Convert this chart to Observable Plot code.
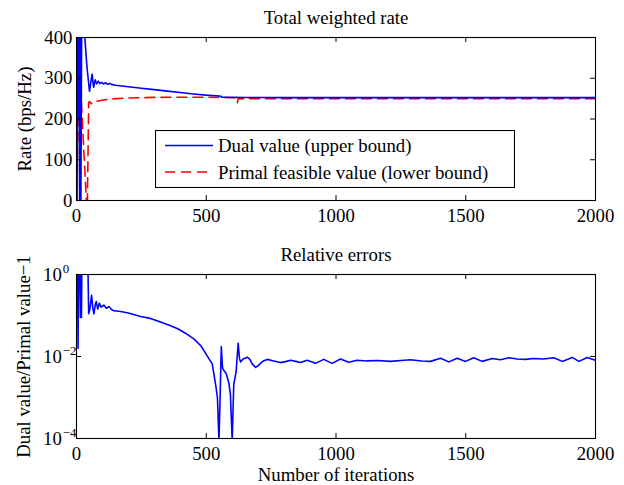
<!DOCTYPE html>
<html><head><meta charset="utf-8">
<script src="https://cdn.jsdelivr.net/npm/d3@7"></script>
<script src="https://cdn.jsdelivr.net/npm/@observablehq/plot@0.6"></script>
<style>
html,body{margin:0;padding:0;background:#fff;}
#wrap{position:relative;width:624px;height:485px;overflow:hidden;font-family:"Liberation Serif","Times New Roman",serif;}
#wrap > svg{display:block;}
#legend{position:absolute;left:155px;top:130px;}
</style></head><body><div id="wrap"></div>
<script>
// ---- data ----
const title1 = "Total weighted rate";
const title2 = "Relative errors";
const yLabel1 = "Rate (bps/Hz)";
const yLabel2 = "Dual value/Primal value\u22121";
const xLabel = "Number of iterations";
const seriesNames = ["Dual value (upper bound)", "Primal feasible value (lower bound)"];
const xTicks = [0, 500, 1000, 1500, 2000];
const rateTicks = [0, 100, 200, 300, 400];
const errTicks = [1e-4, 1e-2, 1];
const errTickLabels = ["10^\u22124", "10^\u22122", "10^0"];

const dualIter  = [0, 2, 4, 6, 9, 12, 14, 17, 20, 25, 31, 40, 50, 60, 66, 72, 78, 84, 90, 97, 104, 112, 120, 128, 135, 150, 200, 250, 300, 350, 400, 450, 500, 550, 557, 560, 600, 650, 700, 800, 1000, 1200, 1400, 1600, 1800, 2000];
const dualValue = [450, 0, 430, 204, 450, 0, 440, 0, 460, 480, 410, 330, 268, 310, 278, 296, 286, 293, 287, 290, 286, 289, 285, 287, 285, 283, 279, 275.5, 272, 268.5, 265, 261.5, 258.5, 256.5, 256, 253.5, 253, 252.8, 252.6, 252.5, 252.5, 252.5, 252.5, 252.5, 252.5, 252.5];

const primalIter  = [0, 1, 4, 8, 18, 38, 42, 47, 52, 57, 62, 75, 100, 130, 200, 300, 450, 560, 610, 618, 620, 623, 700, 900, 1100, 1300, 1500, 1700, 2000];
const primalValue = [210, 0, 120, 240, 250, 0, 0, 241, 242, 237, 241, 243, 246, 249, 251.5, 253, 253.5, 253, 252, 251.5, 240, 249.5, 250, 250, 250, 250, 250, 250, 250];

const errIter  = [0, 4, 6, 8, 12, 15, 17, 19, 21, 40, 44, 47, 52, 58, 63, 67, 72, 76, 82, 88, 95, 105, 115, 125, 135, 144, 170, 200, 247, 285, 324, 360, 388, 420, 452, 480, 503, 523, 536, 543, 549, 553, 558, 562, 564, 577, 587, 593, 600, 606, 615, 623, 628, 632, 642, 658, 668, 677, 690, 700, 707, 720, 735, 760, 786, 805, 825, 845, 863, 889, 921, 953, 985, 1017, 1049, 1081, 1120, 1160, 1210, 1250, 1287, 1330, 1364, 1403, 1435, 1467, 1499, 1531, 1563, 1602, 1634, 1666, 1698, 1730, 1762, 1800, 1839, 1872, 1910, 1936, 1968, 2000];
const errValue = [3, 3, 0.016, 3, 3, 0.09, 3, 0.09, 3, 3, 1.5, 0.11, 0.15, 0.31, 0.15, 0.11, 0.18, 0.22, 0.144, 0.2, 0.16, 0.18, 0.15, 0.165, 0.14, 0.13, 0.125, 0.115, 0.095, 0.085, 0.069, 0.057, 0.048, 0.037, 0.027, 0.018, 0.0105, 0.0066, 0.0021, 0.001, 0.00009, 0.0008, 0.0176, 0.006, 0.005, 0.0038, 0.0023, 0.0012, 0.00009, 0.0021, 0.0042, 0.021, 0.009, 0.0074, 0.0087, 0.0096, 0.0085, 0.0066, 0.0054, 0.006, 0.0066, 0.0078, 0.0085, 0.0078, 0.0071, 0.0075, 0.0081, 0.0076, 0.0071, 0.0081, 0.0068, 0.0085, 0.0068, 0.0087, 0.0072, 0.0081, 0.0078, 0.008, 0.0076, 0.008, 0.0083, 0.0078, 0.0076, 0.0091, 0.0074, 0.0091, 0.0076, 0.0093, 0.0076, 0.0089, 0.0083, 0.0093, 0.0087, 0.0085, 0.0089, 0.0087, 0.0093, 0.0076, 0.0095, 0.0076, 0.0095, 0.0081];

// ---- build tables ----
const dual = dualIter.map((x, i) => ({x, y: dualValue[i]}));
const primal = primalIter.map((x, i) => ({x, y: primalValue[i]}));
const err = errIter.map((x, i) => ({x, y: errValue[i]}));

const BLUE = "#0000ff", RED = "#ff0000";
const FONT = {fontFamily: "'Liberation Serif','Times New Roman',serif", fontSize: "18.8px", background: "transparent", color: "black"};
const ML = 76, MR = 29;
const FW = 624 - ML - MR;
const TICK = 5;

// top plot
const H1 = 240, MT1 = 37, MB1 = 40;
const FH1 = H1 - MT1 - MB1;
const topPlot = Plot.plot({
  width: 624, height: H1,
  marginLeft: ML, marginRight: MR, marginTop: MT1, marginBottom: MB1,
  style: FONT,
  x: {domain: [0, 2000]},
  y: {domain: [0, 400]},
  marks: [
    Plot.line(primal, {x: "x", y: "y", stroke: RED, strokeWidth: 1.6, strokeDasharray: "10,6", clip: true}),
    Plot.line(dual, {x: "x", y: "y", stroke: BLUE, strokeWidth: 1.6, clip: true}),
    Plot.frame({stroke: "black", strokeWidth: 1.1}),
    Plot.tickX(xTicks, {x: d => d, insetTop: FH1 - TICK, stroke: "black"}),
    Plot.tickX(xTicks, {x: d => d, insetBottom: FH1 - TICK, stroke: "black"}),
    Plot.tickY(rateTicks, {y: d => d, insetRight: FW - TICK, stroke: "black"}),
    Plot.tickY(rateTicks, {y: d => d, insetLeft: FW - TICK, stroke: "black"}),
    Plot.axisX(xTicks, {tickSize: 0, tickPadding: 8, tickFormat: "d", label: null}),
    Plot.axisY(rateTicks, {tickSize: 0, tickPadding: 4, tickFormat: "d", label: null}),
    Plot.text([title1], {frameAnchor: "top", lineAnchor: "bottom", dy: -14}),
    Plot.text([yLabel1], {frameAnchor: "left", rotate: -90, textAnchor: "middle", lineAnchor: "bottom", dx: -46})
  ]
});

// bottom plot
const H2 = 245, MT2 = 34, MB2 = 47;
const FH2 = H2 - MT2 - MB2;
const bottomPlot = Plot.plot({
  width: 624, height: H2,
  marginLeft: ML, marginRight: MR, marginTop: MT2, marginBottom: MB2,
  style: FONT,
  x: {domain: [0, 2000]},
  y: {type: "log", domain: [1e-4, 1], axis: null},
  marks: [
    Plot.line(err, {x: "x", y: "y", stroke: BLUE, strokeWidth: 1.6, clip: true}),
    Plot.frame({stroke: "black", strokeWidth: 1.1}),
    Plot.tickX(xTicks, {x: d => d, insetTop: FH2 - TICK, stroke: "black"}),
    Plot.tickX(xTicks, {x: d => d, insetBottom: FH2 - TICK, stroke: "black"}),
    Plot.tickY(errTicks, {y: d => d, insetRight: FW - TICK, stroke: "black"}),
    Plot.tickY(errTicks, {y: d => d, insetLeft: FW - TICK, stroke: "black"}),
    Plot.axisX(xTicks, {tickSize: 0, tickPadding: 8, tickFormat: "d", label: null}),
    Plot.text(errTicks, {y: d => d, text: (d, i) => errTickLabels[i], frameAnchor: "left", textAnchor: "start", dx: -33.5, lineAnchor: "middle"}),
    Plot.text([title2], {frameAnchor: "top", lineAnchor: "bottom", dy: -14}),
    Plot.text([xLabel], {frameAnchor: "bottom", lineAnchor: "bottom", dy: 42}),
    Plot.text([yLabel2], {frameAnchor: "left", rotate: -90, textAnchor: "middle", lineAnchor: "bottom", dx: -47})
  ]
});

// superscripts for log tick labels
const SVGNS = "http://www.w3.org/2000/svg";
bottomPlot.querySelectorAll("text").forEach(t => {
  const m = t.textContent.match(/^10\^(.+)$/);
  if (m) {
    t.textContent = "10";
    const ts = document.createElementNS(SVGNS, "tspan");
    ts.setAttribute("dy", "-8");
    ts.setAttribute("dx", "1");
    ts.setAttribute("font-size", "13px");
    ts.textContent = m[1];
    t.appendChild(ts);
  }
});

const wrap = document.getElementById("wrap");
wrap.appendChild(topPlot);
wrap.appendChild(bottomPlot);
bottomPlot.style.overflow = "visible";

// legend (overlay inside the top axes)
const LW = 360, LH = 58;
const leg = document.createElementNS(SVGNS, "svg");
leg.setAttribute("id", "legend");
leg.setAttribute("width", LW);
leg.setAttribute("height", LH);
leg.style.fontFamily = FONT.fontFamily;
leg.style.fontSize = FONT.fontSize;
const items = [{name: seriesNames[0], color: BLUE, dash: null}, {name: seriesNames[1], color: RED, dash: "10,6"}];
let html = `<rect x="0.5" y="0.5" width="${LW - 1}" height="${LH - 1}" fill="white" stroke="black" stroke-width="1.1"/>`;
items.forEach((it, i) => {
  const cy = 15.5 + i * 26.5;
  html += `<line x1="10" x2="58" y1="${cy}" y2="${cy}" stroke="${it.color}" stroke-width="1.6"${it.dash ? ` stroke-dasharray="${it.dash}"` : ""}/>`;
  html += `<text x="63" y="${cy + 6.5}" fill="black">${it.name}</text>`;
});
leg.innerHTML = html;
wrap.appendChild(leg);
</script>
</body></html>
